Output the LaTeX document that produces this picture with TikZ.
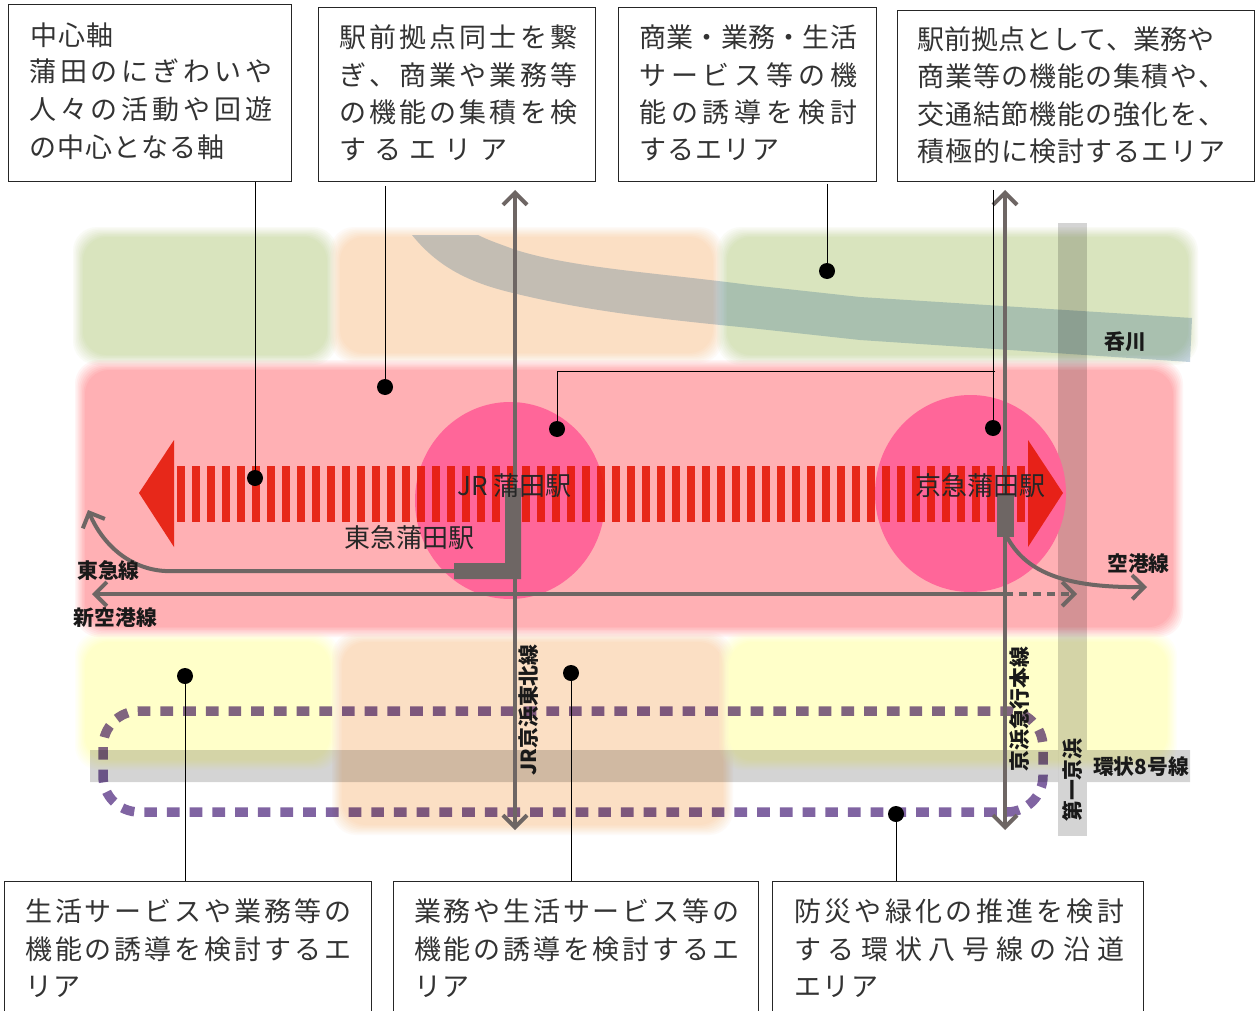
\documentclass[tikz,border=0pt]{standalone}
\usepackage{fontspec}
\setmainfont{Noto Sans CJK JP}
\usetikzlibrary{arrows.meta}
\definecolor{softgreen}{HTML}{D9E4BE}
\definecolor{softorange}{HTML}{FBDFC4}
\definecolor{softpink}{HTML}{FFB0B4}
\definecolor{softyellow}{HTML}{FFFFC9}
\definecolor{hubpink}{HTML}{FF6699}
\definecolor{axisred}{HTML}{E51A0A}
\definecolor{railgray}{HTML}{6E6664}
\definecolor{ringpurple}{HTML}{8064A2}
\definecolor{riverblue}{HTML}{1C5884}
\tikzset{
  x=1pt,y=-1pt,
  callout/.style={draw=black!85,line width=1.2pt,fill=white,anchor=north west,inner sep=0pt},
  boxtext/.style={anchor=west,inner sep=0pt,text height=23.8pt,text depth=3.2pt,text=black!80,font=\fontsize{27}{30}\selectfont},
  station/.style={anchor=west,inner sep=0pt,text height=22.9pt,text depth=3.1pt,text=black!85,font=\fontsize{26}{28}\selectfont},
  railname/.style={inner sep=0pt,text=black!90,font=\bfseries\fontsize{20.8}{23}\selectfont},
  rail/.style={draw=railgray,line width=4pt},
  railtip/.style={rail,-{Straight Barb[length=12pt,width=24pt,line width=4pt]}},
  railtips/.style={rail,{Straight Barb[length=12pt,width=24pt,line width=4pt]}-{Straight Barb[length=12pt,width=24pt,line width=4pt]}},
  leader/.style={draw=black,line width=1pt},
  pin/.style={circle,fill=black,inner sep=0pt,minimum size=16pt},
  hub/.style={fill=hubpink},
  stripe/.style={fill=axisred,fill opacity=.9},
  platform/.style={fill=railgray},
}
% soft-edged zone: the bounds are the visual edge, with a linear ramp of 10 px across it
\newcommand\softzone[5]{%
  \foreach \k in {1,...,8}{
    \pgfmathsetmacro\op{1/(9-\k)}
    \pgfmathsetmacro\ins{(\k-1)*10/7-5}
    \fill[#5,fill opacity=\op,rounded corners=24pt] (#1+\ins,#2+\ins) rectangle (#3-\ins,#4-\ins);
  }}
\def\spreadchars#1#2{#1\ifx\relax#2\else\hskip 0pt plus 1fil\expandafter\spreadchars\expandafter#2\fi}
\newcommand\jl[5]{\node[boxtext] (#1) at (#2,#3) {\makebox[#4pt][s]{\spreadchars#5\relax}};}
\begin{document}
\begin{tikzpicture}
\clip (0,0) rectangle (1255,1011);
\fill[white] (0,0) rectangle (1255,1011);
% zones
\softzone{78}{232}{332}{360}{softgreen}
\softzone{335}{232}{718}{358}{softorange}
\softzone{722}{232}{1193}{360}{softgreen}
\softzone{80}{637}{335}{765}{softyellow}
\softzone{337}{637}{728}{830}{softorange}
\softzone{724}{637}{1172}{765}{softyellow}
\softzone{80}{365}{1178}{632}{softpink}
% river
\fill[riverblue,fill opacity=.25] (412,235) .. controls (440,270) and (475,284) .. (513,293)
  .. controls (590,312) and (670,320) .. (750,328)
  -- (860,340) -- (1190,362) -- (1192,318) -- (860,297) -- (750,285)
  .. controls (660,273) and (570,268) .. (513,249)
  .. controls (500,244) and (490,241) .. (478,235) -- cycle;
% roads
\fill[black,fill opacity=.17] (1058,223) rectangle (1087,836);
\fill[black,fill opacity=.17] (90,750) rectangle (1058,782) (1087,750) rectangle (1190,782);
% hubs
\fill[hub] (510,500.5) ellipse (95 and 98.5);
\fill[hub] (970.5,493.5) ellipse (95.5 and 98.5);
% central axis
\foreach \i in {0,...,56}{
  \fill[stripe] (177+15*\i,466) rectangle (184.5+15*\i,522);
}
\fill[stripe] (139,493) -- (174,440) -- (174,547) -- cycle;
\fill[stripe] (1063,493) -- (1028,440) -- (1028,547) -- cycle;
% ring road
\begin{scope}[blend mode=multiply]
\draw[ringpurple,line width=9.5pt,dash pattern=on 12.7pt off 10pt,rounded corners=36pt] (103,711) rectangle (1043,812);
\end{scope}
% rails
\coordinate (jrN) at (515,190);
\coordinate (jrS) at (515,830);
\coordinate (kkN) at (1005,190);
\coordinate (kkS) at (1005,830);
\coordinate (aW) at (92,594);
\coordinate (aM) at (1005,594);
\coordinate (aE) at (1077,594);
\coordinate (tyW) at (88,510);
\coordinate (tyE) at (456,571);
\coordinate (apS) at (1007,537);
\coordinate (apE) at (1147,587);
\draw[railtips] (jrS) -- (jrN);
\draw[railtips] (kkS) -- (kkN);
\draw[rail,{Straight Barb[length=12pt,width=24pt,line width=4pt]}-] (aW) -- (aM);
\draw[railtip,dash pattern=on 8pt off 6pt] (aM) -- (aE);
\draw[railtip] (tyE) -- (165,571) .. controls (130,569) and (103,545) .. (tyW);
\draw[railtip] (apS) .. controls (1025,570) and (1060,588) .. (apE);
\fill[platform] (505,488) rectangle (521,579) (454,563) rectangle (521,579);
\fill[platform] (997,495) rectangle (1014,537);
% station names
\node[station] (stJR) at (457,486) {JR 蒲田駅};
\node[station] (stTK) at (344,538) {東急蒲田駅};
\node[station] (stKK) at (915,486) {京急蒲田駅};
% rail and road names
\node[railname] (nNomi) at (1125,342) {呑川};
\node[railname] (nTokyu) at (108.5,571) {東急線};
\node[railname] (nShin) at (115.5,618) {新空港線};
\node[railname] (nKuko) at (1138.5,564) {空港線};
\node[railname] (nKan) at (1141,767) {環状8号線};
\node[railname,rotate=90] (nJR) at (529,710) {JR京浜東北線};
\node[railname,rotate=90] (nKK) at (1020,709) {京浜急行本線};
\node[railname,rotate=90] (nDai) at (1073,780) {第一京浜};
% callout boxes
\node[callout,minimum width=283pt,minimum height=177pt] (b1) at (8,4) {};
\node[callout,minimum width=277pt,minimum height=174pt] (b2) at (318,7) {};
\node[callout,minimum width=258pt,minimum height=174pt] (b3) at (618,7) {};
\node[callout,minimum width=357pt,minimum height=171pt] (b4) at (897,10) {};
\node[callout,minimum width=367pt,minimum height=140pt] (b5) at (4,881) {};
\node[callout,minimum width=365pt,minimum height=140pt] (b6) at (393,881) {};
\node[callout,minimum width=371pt,minimum height=140pt] (b7) at (772,881) {};
% box texts
\jl{a1}{30}{35}{83}{中心軸}
\jl{a2}{29}{71}{243}{蒲田のにぎわいや}
\jl{a3}{29}{109}{243}{人々の活動や回遊}
\jl{a4}{29}{147}{195}{の中心となる軸}
\jl{c1}{339}{37}{238}{駅前拠点同士を繋}
\jl{c2}{339}{75}{238}{ぎ、商業や業務等}
\jl{c3}{339}{112}{238}{の機能の集積を検}
\jl{c4}{339}{149}{168}{するエリア}
\jl{d1}{639}{37}{218}{商業・業務・生活}
\jl{d2}{639}{75}{218}{サービス等の機}
\jl{d3}{639}{112}{218}{能の誘導を検討}
\jl{d4}{639}{149}{140}{するエリア}
\jl{e1}{917}{39}{291}{駅前拠点として、業務や}
\jl{e2}{917}{76}{308}{商業等の機能の集積や、}
\jl{e3}{917}{114}{308}{交通結節機能の強化を、}
\jl{e4}{917}{151}{308}{積極的に検討するエリア}
\jl{f1}{25}{911}{326}{生活サービスや業務等の}
\jl{f2}{25}{949}{326}{機能の誘導を検討するエ}
\jl{f3}{25}{986}{55}{リア}
\jl{g1}{414}{911}{325}{業務や生活サービス等の}
\jl{g2}{414}{949}{325}{機能の誘導を検討するエ}
\jl{g3}{414}{986}{55}{リア}
\jl{h1}{794}{911}{330}{防災や緑化の推進を検討}
\jl{h2}{794}{949}{330}{する環状八号線の沿道}
\jl{h3}{794}{986}{84}{エリア}
% pins and leaders
\node[pin] (p1) at (255,478) {};
\node[pin] (p2) at (385,387) {};
\node[pin] (p3) at (827,271) {};
\node[pin] (p4) at (993,428) {};
\node[pin] (p5) at (557,429) {};
\node[pin] (p6) at (185,676) {};
\node[pin] (p7) at (571,673) {};
\node[pin] (p8) at (896,814) {};
\coordinate (s2) at (385,186);
\coordinate (s3) at (827,184);
\coordinate (s4) at (993,190);
\coordinate (j4) at (995,371);
\draw[leader] (p1 |- b1.south) -- (p1);
\draw[leader] (s2) -- (p2);
\draw[leader] (s3) -- (p3);
\draw[leader] (s4) -- (p4);
\draw[leader] (j4) -- (p5 |- j4) -- (p5);
\draw[leader] (p6 |- b5.north) -- (p6);
\draw[leader] (p7 |- b6.north) -- (p7);
\draw[leader] (p8 |- b7.north) -- (p8);
\end{tikzpicture}
\end{document}
